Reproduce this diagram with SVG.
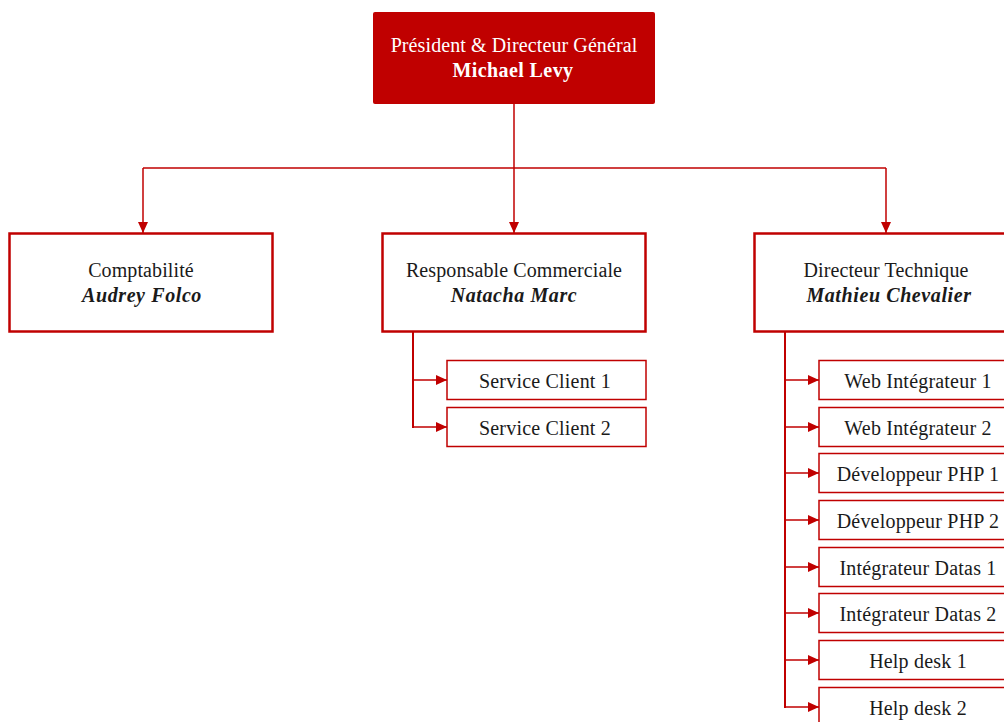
<svg xmlns="http://www.w3.org/2000/svg" width="1004" height="722" viewBox="0 0 1004 722">
<style>
text{font-family:"Liberation Serif","Times New Roman",serif;fill:#1a1a1a;text-anchor:middle}
.t{font-size:20px;letter-spacing:0.1px}
.n{font-size:20px;font-weight:bold;font-style:italic;letter-spacing:0.6px}
.top{fill:#fff}
.box2{fill:#fff;stroke:#c00000;stroke-width:2.5}
.box3{fill:#fff;stroke:#c00000;stroke-width:1.5}
.c{fill:none;stroke:#c00000;stroke-width:1.5}
.c2{fill:none;stroke:#c00000;stroke-width:2}
.s{font-size:20px;letter-spacing:0.2px}
</style>
<defs>
<marker id="ah" viewBox="0 0 11 10" refX="11" refY="5" markerWidth="11" markerHeight="10" markerUnits="userSpaceOnUse" orient="auto">
<path d="M0,0 L11,5 L0,10 z" fill="#c00000"/>
</marker>
</defs>
<rect width="1004" height="722" fill="#fff"/>
<g id="connectors">
<path class="c" d="M514,104 V168"/>
<path class="c" d="M143,168 H886"/>
<path class="c" d="M143,168 V233" marker-end="url(#ah)"/>
<path class="c" d="M514,168 V233" marker-end="url(#ah)"/>
<path class="c" d="M886,168 V233" marker-end="url(#ah)"/>
<path class="c2" d="M413,332 V428"/>
<path class="c" d="M413,380 H447" marker-end="url(#ah)"/>
<path class="c" d="M413,427 H447" marker-end="url(#ah)"/>
<path class="c2" d="M785,332 V708"/>
<path class="c" d="M785,380 H819" marker-end="url(#ah)"/>
<path class="c" d="M785,427 H819" marker-end="url(#ah)"/>
<path class="c" d="M785,473 H819" marker-end="url(#ah)"/>
<path class="c" d="M785,520 H819" marker-end="url(#ah)"/>
<path class="c" d="M785,567 H819" marker-end="url(#ah)"/>
<path class="c" d="M785,613 H819" marker-end="url(#ah)"/>
<path class="c" d="M785,660 H819" marker-end="url(#ah)"/>
<path class="c" d="M785,707 H819" marker-end="url(#ah)"/>
</g>
<g id="pdg">
<rect x="373" y="12" width="282" height="92" rx="2" fill="#c00000"/>
<text class="t top" x="514" y="52">Président &amp; Directeur Général</text>
<text class="n top" x="513" y="77" style="font-style:normal;letter-spacing:0.4px">Michael Levy</text>
</g>
<g id="comptabilite">
<rect class="box2" x="9.5" y="233.5" width="263" height="98"/>
<text class="t" x="141" y="277">Comptabilité</text>
<text class="n" x="142" y="302">Audrey Folco</text>
</g>
<g id="commercial">
<rect class="box2" x="382.5" y="233.5" width="263" height="98"/>
<text class="t" x="514" y="277">Responsable Commerciale</text>
<text class="n" x="514" y="302">Natacha Marc</text>
</g>
<g id="technique">
<rect class="box2" x="754.5" y="233.5" width="263" height="98"/>
<text class="t" x="886" y="277">Directeur Technique</text>
<text class="n" x="889" y="302">Mathieu Chevalier</text>
</g>
<g id="sc1"><rect class="box3" x="447" y="360.5" width="199" height="39"/><text class="s" x="545" y="387.5">Service Client 1</text></g>
<g id="sc2"><rect class="box3" x="447" y="407.5" width="199" height="39"/><text class="s" x="545" y="434.5">Service Client 2</text></g>
<g id="wi1"><rect class="box3" x="819" y="360.5" width="199" height="39"/><text class="s" x="918" y="387.5">Web Intégrateur 1</text></g>
<g id="wi2"><rect class="box3" x="819" y="407.5" width="199" height="39"/><text class="s" x="918" y="434.5">Web Intégrateur 2</text></g>
<g id="php1"><rect class="box3" x="819" y="453.5" width="199" height="39"/><text class="s" x="918" y="480.5">Développeur PHP 1</text></g>
<g id="php2"><rect class="box3" x="819" y="500.5" width="199" height="39"/><text class="s" x="918" y="527.5">Développeur PHP 2</text></g>
<g id="id1"><rect class="box3" x="819" y="547.5" width="199" height="39"/><text class="s" x="918" y="574.5">Intégrateur Datas 1</text></g>
<g id="id2"><rect class="box3" x="819" y="593.5" width="199" height="39"/><text class="s" x="918" y="620.5">Intégrateur Datas 2</text></g>
<g id="hd1"><rect class="box3" x="819" y="640.5" width="199" height="39"/><text class="s" x="918" y="667.5">Help desk 1</text></g>
<g id="hd2"><rect class="box3" x="819" y="687.5" width="199" height="39"/><text class="s" x="918" y="714.5">Help desk 2</text></g>
</svg>
